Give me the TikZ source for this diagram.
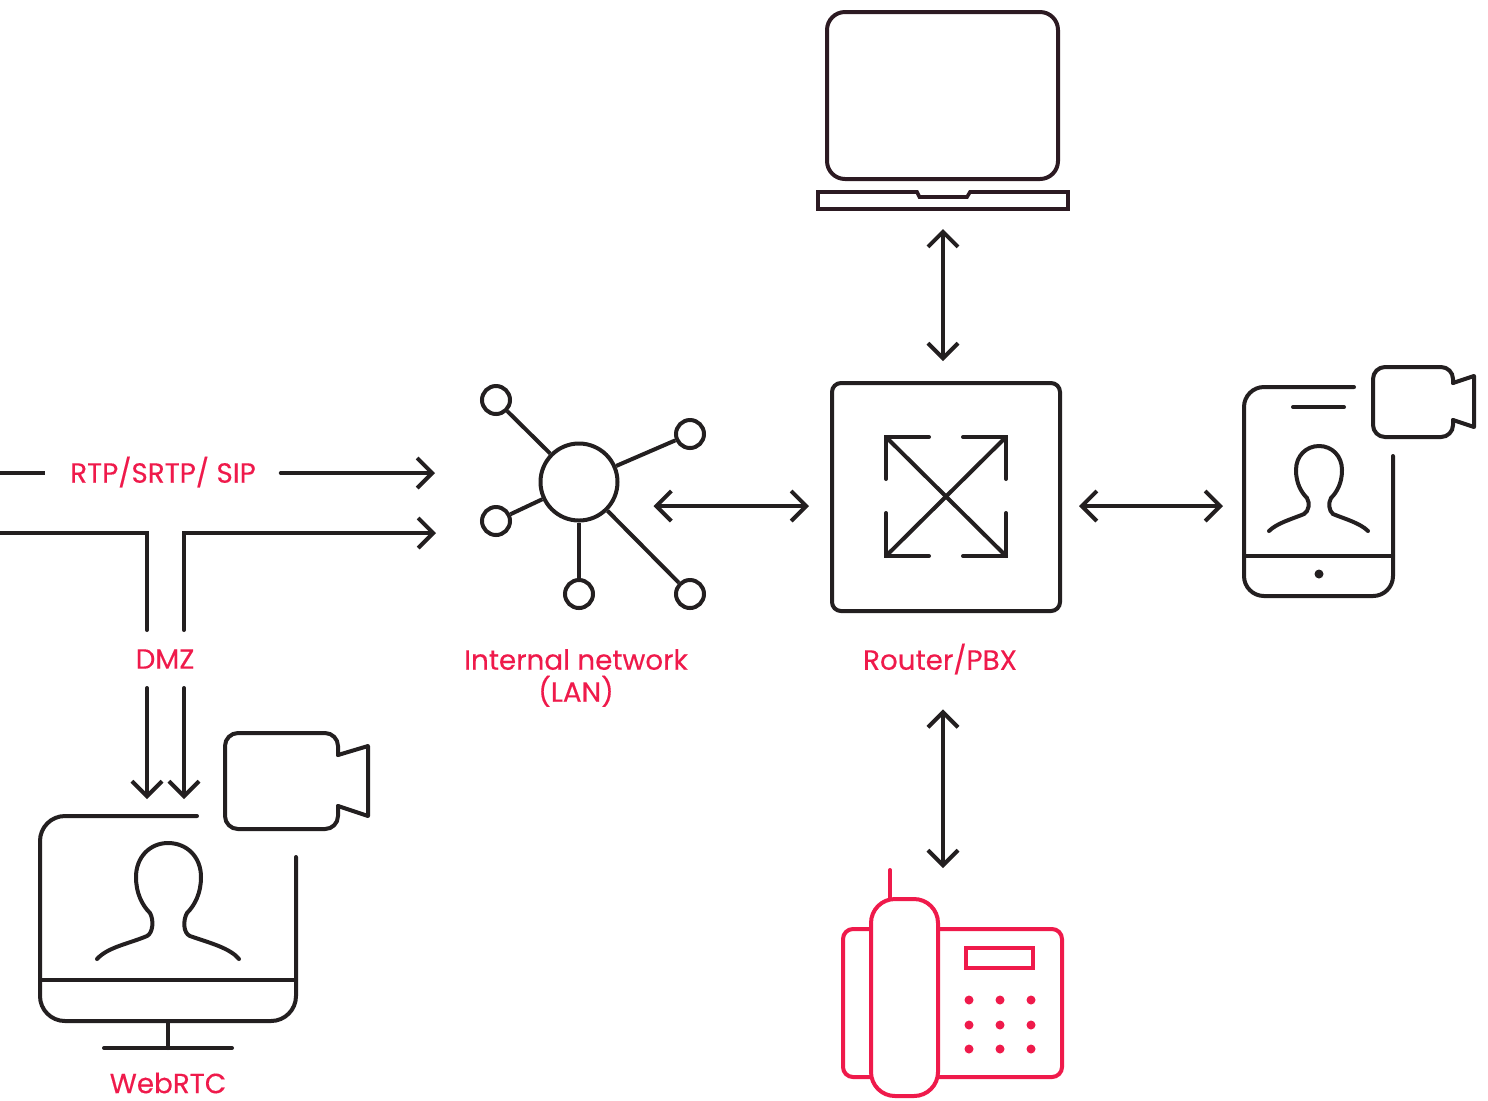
\documentclass[tikz,border=0pt]{standalone}
\usepackage{fontspec}
\setmainfont{Poppins}[FakeBold=0.3]
\usetikzlibrary{arrows.meta}
\definecolor{inkdark}{HTML}{231F20}
\definecolor{inklap}{HTML}{2C1A22}
\definecolor{inkred}{HTML}{EF1A4B}
\tikzset{
    >={Straight Barb[length=7.5pt,width=15pt]},
    tag/.style={text=inkred,font=\fontsize{13.9}{16}\selectfont,align=center,inner sep=0pt},
    sat/.style={draw,circle,minimum size=14pt,inner sep=0pt},
}
\begin{document}
\begin{tikzpicture}[x=0.5pt,y=-0.5pt,line width=2pt,color=inkdark,line cap=round]
        \useasboundingbox (0,0) rectangle (1488,1100);
        %% Laptop
        \node[draw=inklap,rounded corners=9pt,minimum width=115.5pt,minimum height=83.5pt,inner sep=0pt] (screen) at (942.5,95.5) {};
        \draw[inklap,line width=1.8pt,line join=miter] (818,192) -- (917,192) -- (919.5,197) -- (967,197) -- (970,192) -- (1068,192) -- (1068,209) -- (818,209) -- cycle;
        \coordinate (lapbase) at (943,209);
        %% Router
        \node[draw,rounded corners=4.5pt,minimum size=114pt,inner sep=0pt] (router) at (946,497) {};
        \draw (929,437) -- (886,437) -- (886,479);
        \draw (963,437) -- (1006,437) -- (1006,479);
        \draw (886,513) -- (886,556) -- (929,556);
        \draw (963,556) -- (1006,556) -- (1006,513);
        \draw (886,437) -- (1006,556);
        \draw (1006,437) -- (886,556);
        \node[tag] (routertag) at (940,659) {Router/PBX};
        %% Internal network
        \node[draw,circle,minimum size=38.5pt,inner sep=0pt] (hub) at (579,482) {};
        \node[sat] (sata) at (496,400) {};
        \node[sat] (satb) at (690,434) {};
        \node[sat] (satc) at (496,521) {};
        \node[sat] (satd) at (579,594) {};
        \node[sat] (sate) at (690,594) {};
        \foreach \s in {sata,satb,satc,satd,sate} {
            \draw[line cap=butt] (hub) -- (\s);
        }
        \node[tag] (lantag) at (576,678) {Internal network\\(LAN)};
        %% Phone with camera
        \draw[rounded corners=10pt] (1354,387) -- (1244,387) -- (1244,596) -- (1393,596) -- (1393,456);
        \draw (1244,556) -- (1393,556);
        \draw (1293,407) -- (1344,407);
        \fill (1319,574) circle (2.25pt);
        \draw (1269,531) .. controls (1277,523) and (1292,519) .. (1304,514)
            .. controls (1309,511) and (1310,503) .. (1307,498)
            .. controls (1301,492) and (1296,483) .. (1296,470)
            .. controls (1296,456) and (1306,446) .. (1319,446)
            .. controls (1332,446) and (1342,456) .. (1342,470)
            .. controls (1342,483) and (1337,492) .. (1331,498)
            .. controls (1328,503) and (1329,511) .. (1333,514)
            .. controls (1345,519) and (1360,523) .. (1368,531);
        \draw[rounded corners=6pt] (1453,383) -- (1453,367) -- (1373,367) -- (1373,437) -- (1453,437) -- (1453,420);
        \draw[line join=round] (1453,383) -- (1474,376) -- (1474,427) -- (1453,420);
        %% Desk phone
        \begin{scope}[color=inkred]
            \node[draw=inkred,rounded corners=5pt,minimum width=109.5pt,minimum height=74pt,inner sep=0pt] (deskbody) at (952.5,1003) {};
            \draw (890,870) -- (890,899);
            \node[draw=inkred,fill=white,rounded corners=12pt,minimum width=33.5pt,minimum height=98.5pt,inner sep=0pt] (handset) at (904.5,997.5) {};
            \draw (966,948) rectangle (1033,968);
            \foreach \x in {969,1000,1031} {
                \foreach \y in {1000,1025,1049} {
                    \fill (\x,\y) circle (2.25pt);
                }
            }
        \end{scope}
        %% Screen with camera
        \draw[rounded corners=12.5pt] (197,816) -- (40,816) -- (40,1021) -- (296,1021) -- (296,857);
        \draw (40,980) -- (296,980);
        \draw (168,1021) -- (168,1048);
        \draw (104,1048) -- (232,1048);
        \draw (97,959) .. controls (108,947) and (128,944) .. (147,936)
            .. controls (153,933) and (154,920) .. (150,913)
            .. controls (142,905) and (136,893) .. (136,877)
            .. controls (136,857) and (150,843) .. (168,843)
            .. controls (187,843) and (201,857) .. (201,877)
            .. controls (201,893) and (195,905) .. (187,913)
            .. controls (183,920) and (183,933) .. (190,936)
            .. controls (210,943) and (230,948) .. (239,959);
        \draw[rounded corners=6.5pt] (338,755) -- (338,733) -- (225,733) -- (225,829) -- (338,829) -- (338,806);
        \draw[line join=round] (338,755) -- (368,746) -- (368,816) -- (338,806);
        \node[tag] (webtag) at (168,1083) {WebRTC};
        %% Streams from the left
        \coordinate (rtpfrom) at (0,473);
        \coordinate (rtpto) at (435,473);
        \coordinate (bendl) at (147,533);
        \coordinate (bendr) at (184,533);
        \node[tag,inner xsep=11.5pt] (rtptag) at (163,472) {RTP/SRTP/ SIP};
        \node[tag,minimum height=27pt,minimum width=60pt] (dmztag) at (165,659) {DMZ};
        \draw[line cap=butt] (rtpfrom) -- (rtptag.west |- rtpfrom);
        \draw[->] (rtptag.east |- rtpfrom) -- (rtpto);
        \coordinate (dmzfrom) at (0,533);
        \coordinate (dmzto) at (436,533);
        \coordinate (webl) at (147,799);
        \coordinate (webr) at (184,799);
        \draw (dmzfrom) -- (bendl) -- (bendl |- dmztag.north);
        \draw[->] (bendr |- dmztag.north) -- (bendr) -- (dmzto);
        \draw[->] (webl |- dmztag.south) -- (webl);
        \draw[->] (webr |- dmztag.south) -- (webr);
        %% Links to the router
        \coordinate (linkrow) at (0,506);
        \coordinate (phoneside) at (1244,506);
        \draw[<->,shorten <=17pt,shorten >=10.5pt] (hub.east |- linkrow) -- (router.west |- linkrow);
        \draw[<->,shorten <=8.5pt,shorten >=10.5pt] (router.east |- linkrow) -- (phoneside);
        \draw[<->,shorten <=10pt,shorten >=10pt] (lapbase) -- (lapbase |- router.north);
        \draw[<->,shorten <=16.5pt,shorten >=29.5pt] (lapbase |- routertag.south) -- (lapbase |- deskbody.north);
    \end{tikzpicture}
\end{document}
